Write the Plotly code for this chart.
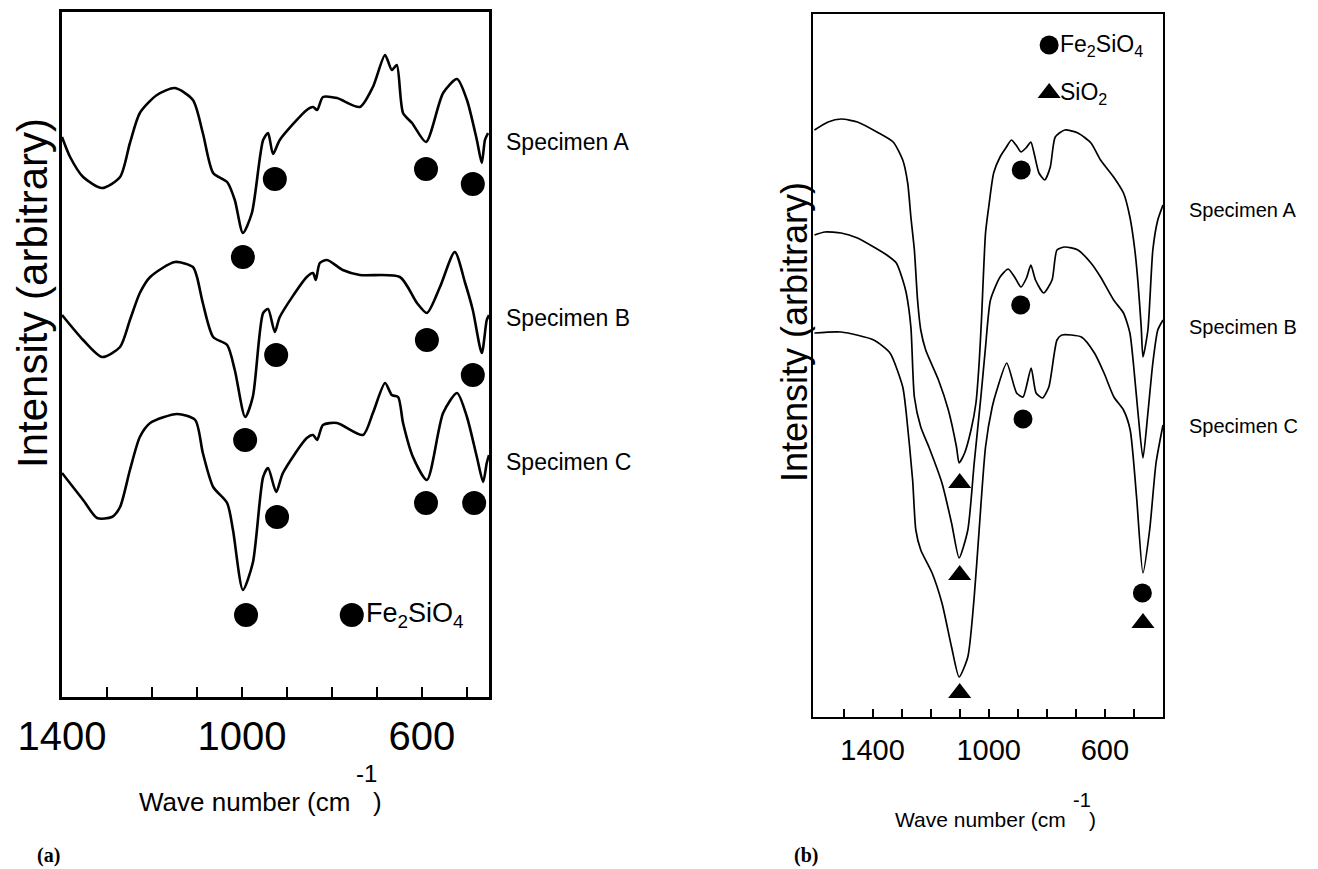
import plotly.graph_objects as go

# page body has an 8 px margin; the figure fills the rest of the 1318x869 window
OFF = 8
W, H = 1318 - OFF, 869 - OFF

# ---------------- Panel (a) data (wave number, intensity in arbitrary units) ----------------
a_wn_A = [1400,1382,1353,1311,1271,1249,1227,1189,1149,1109,1087,1064,1033,1016,998,978,953,942,931,916,
          856,842,833,820,789,738,709,682,667,656,642,622,591,553,522,500,478,467,460,453]
a_int_A = [560,540,520,509,520,554,584,602,609,597,564,524,515,497,464,484,557,564,543,557,
           587,590,587,600,599,590,610,642,627,632,584,574,555,604,618,597,557,534,557,564]

a_wn_B = [1400,1353,1311,1271,1249,1227,1204,1149,1109,1100,1087,1064,1033,1016,993,976,953,942,927,916,
          856,842,836,827,811,776,738,649,611,589,560,527,504,487,467,456,451]
a_int_B = [382,357,340,350,377,404,420,435,430,420,394,360,352,327,280,300,384,388,365,380,
           420,424,417,434,437,427,422,420,394,384,410,445,414,387,344,377,382]

a_wn_C = [1400,1353,1322,1289,1271,1249,1227,1204,1144,1104,1087,1064,1033,1020,998,976,953,942,924,909,
          856,842,833,820,789,731,709,682,667,653,642,620,589,553,522,500,478,464,456,451]
a_int_C = [224,197,179,180,190,227,260,274,283,277,244,210,194,167,107,134,220,229,205,224,
           259,262,257,272,274,262,284,314,302,300,274,240,217,284,304,280,240,215,234,242]

# Fe2SiO4 band markers (panel a)
a_dot_wn = [927, 591, 487, 998, 924, 589, 487, 993, 922, 591, 484, 991]
a_dot_int = [518, 528, 513, 440, 342, 357, 322, 257, 180, 194, 194, 82]
a_legend_wn, a_legend_int = [756], [82]

a_ticks = [1400, 1300, 1200, 1100, 1000, 900, 800, 700, 600, 500]
a_ticklabels = ["1400", "", "", "", "1000", "", "", "", "600", ""]

# ---------------- Panel (b) data ----------------
b_wn_A = [1600,1553,1508,1452,1385,1329,1296,1279,1268,1256,1245,1234,1217,1173,1139,1111,1102,1083,1061,1044,
          1033,1025,1011,1000,983,961,939,922,906,889,872,855,844,827,807,788,771,738,693,648,
          615,570,536,514,497,486,475,469,452,435,418,400]
b_int_A = [587,595,598,595,585,575,557,534,500,467,417,387,367,337,307,270,254,264,287,314,
           354,397,484,510,544,560,570,577,572,565,569,575,564,544,537,550,580,587,584,574,
           557,540,524,500,467,434,390,360,387,467,497,512]

b_wn_B = [1600,1564,1508,1452,1396,1351,1318,1296,1284,1268,1256,1234,1206,1161,1128,1102,1072,1050,1027,1011,
          994,961,933,911,889,870,855,839,811,782,765,738,693,648,615,570,536,514,502,486,
          469,452,435,418,400]
b_int_B = [482,485,484,479,470,462,454,437,424,390,320,290,270,234,194,159,187,254,320,370,
           417,440,448,440,430,439,452,437,424,437,467,470,467,454,440,417,404,384,354,304,
           259,304,354,387,397]

b_wn_C = [1600,1508,1396,1340,1296,1284,1262,1251,1234,1195,1161,1128,1102,1072,1050,1033,1011,988,972,938,
          904,882,854,837,815,793,765,748,681,636,603,569,536,513,491,469,446,424,400]
b_int_C = [384,385,377,364,330,304,237,187,167,144,114,70,40,60,120,187,270,310,327,354,
           324,320,349,324,319,330,377,382,380,364,344,320,307,287,220,144,187,254,292]

b_dot_wn = [888, 890, 882, 471]
b_dot_int = [547, 412, 298, 124]
b_tri_wn = [1100, 1100, 1100, 469]
b_tri_int = [234, 142, 24, 94]
b_legend_wn = [792, 792]
b_legend_int = [672, 624]

b_ticks = [1500, 1400, 1300, 1200, 1100, 1000, 900, 800, 700, 600, 500]
b_ticklabels = ["", "1400", "", "", "", "1000", "", "", "", "600", ""]

specimens = ["Specimen A", "Specimen B", "Specimen C"]

# ---------------- figure ----------------
FONT = "Liberation Sans, Arial, Helvetica, sans-serif"
SERIF = "Liberation Serif, Times New Roman, serif"
fig = go.Figure()

def px(x):
    return (x - OFF) / W

def py(y):
    return 1 - (y - OFF) / H

for wn, it in [(a_wn_A, a_int_A), (a_wn_B, a_int_B), (a_wn_C, a_int_C)]:
    fig.add_trace(go.Scatter(x=wn, y=it, mode="lines", xaxis="x", yaxis="y",
                             line=dict(color="black", width=2.6, shape="spline", smoothing=0.7),
                             showlegend=False, hoverinfo="skip"))
fig.add_trace(go.Scatter(x=a_dot_wn + a_legend_wn, y=a_dot_int + a_legend_int, mode="markers",
                         xaxis="x", yaxis="y",
                         marker=dict(symbol="circle", size=24, color="black"),
                         showlegend=False, hoverinfo="skip"))

for wn, it in [(b_wn_A, b_int_A), (b_wn_B, b_int_B), (b_wn_C, b_int_C)]:
    fig.add_trace(go.Scatter(x=wn, y=it, mode="lines", xaxis="x2", yaxis="y2",
                             line=dict(color="black", width=1.7, shape="spline", smoothing=0.6),
                             showlegend=False, hoverinfo="skip"))
fig.add_trace(go.Scatter(x=b_dot_wn + b_legend_wn[:1], y=b_dot_int + b_legend_int[:1], mode="markers",
                         xaxis="x2", yaxis="y2",
                         marker=dict(symbol="circle", size=19, color="black"),
                         showlegend=False, hoverinfo="skip"))
fig.add_trace(go.Scatter(x=b_tri_wn + b_legend_wn[1:], y=b_tri_int + b_legend_int[1:], mode="markers",
                         xaxis="x2", yaxis="y2",
                         marker=dict(symbol="triangle-up", size=20, color="black"),
                         showlegend=False, hoverinfo="skip"))

axis_common = dict(showgrid=False, zeroline=False, showline=True, mirror=True, linecolor="black",
                   automargin=False)

fig.update_layout(
    width=W, height=H, margin=dict(l=0, r=0, t=0, b=0, pad=0, autoexpand=False),
    paper_bgcolor="white", plot_bgcolor="white",
    font=dict(family=FONT, color="black"),
    xaxis=dict(domain=[px(62), px(489)], range=[1400, 451], anchor="y",
               tickmode="array", tickvals=a_ticks, ticktext=a_ticklabels,
               ticks="inside", ticklen=10, tickwidth=2, tickcolor="black",
               tickfont=dict(size=40, family=FONT), ticklabelstandoff=2,
               linewidth=3, **axis_common),
    yaxis=dict(domain=[py(697), py(12)], range=[0, 685], anchor="x",
               showticklabels=False, ticks="", linewidth=3, **axis_common),
    xaxis2=dict(domain=[px(813), px(1163)], range=[1605, 400], anchor="y2",
                tickmode="array", tickvals=b_ticks, ticktext=b_ticklabels,
                ticks="inside", ticklen=8, tickwidth=1.5, tickcolor="black",
                tickfont=dict(size=29, family=FONT), ticklabelstandoff=6,
                linewidth=2, **axis_common),
    yaxis2=dict(domain=[py(717), py(14)], range=[0, 703], anchor="x2",
                showticklabels=False, ticks="", linewidth=2, **axis_common),
)

ann = []

def txt(x, y, text, size, xanchor="center", family=FONT, angle=0):
    ann.append(dict(x=px(x), y=py(y), xref="paper", yref="paper", text=text,
                    xanchor=xanchor, yanchor="middle", textangle=angle, showarrow=False,
                    font=dict(size=size, family=family)))

# panel (a) texts
txt(33, 293, "Intensity (arbitrary)", 42, angle=-90)
txt(352, 802, "Wave number (cm", 26, xanchor="right")
txt(366, 773, "-1", 24)
txt(371, 802, ")", 26, xanchor="left")
txt(48, 855, "<b>(a)</b>", 20, family=SERIF)
for lab, yy in zip(specimens, [142, 318, 462]):
    txt(504, yy, lab, 23, xanchor="left")
ann.append(dict(x=a_legend_wn[0], y=a_legend_int[0], xref="x", yref="y",
                text="Fe<sub>2</sub>SiO<sub>4</sub>", xanchor="left", yanchor="middle", xshift=12,
                showarrow=False, font=dict(size=27)))

# panel (b) texts
txt(794, 332, "Intensity (arbitrary)", 36, angle=-90)
txt(1068, 819, "Wave number (cm", 21, xanchor="right")
txt(1082, 800, "-1", 20)
txt(1087, 819, ")", 21, xanchor="left")
txt(806, 855, "<b>(b)</b>", 20, family=SERIF)
for lab, yy in zip(specimens, [210, 327, 426]):
    txt(1187, yy, lab, 20, xanchor="left")
ann.append(dict(x=b_legend_wn[0], y=b_legend_int[0], xref="x2", yref="y2",
                text="Fe<sub>2</sub>SiO<sub>4</sub>", xanchor="left", yanchor="middle", xshift=9,
                showarrow=False, font=dict(size=23)))
ann.append(dict(x=b_legend_wn[1], y=b_legend_int[1], xref="x2", yref="y2",
                text="SiO<sub>2</sub>", xanchor="left", yanchor="middle", xshift=9,
                showarrow=False, font=dict(size=23)))
fig.update_layout(annotations=ann)

fig.write_html("out.html")
